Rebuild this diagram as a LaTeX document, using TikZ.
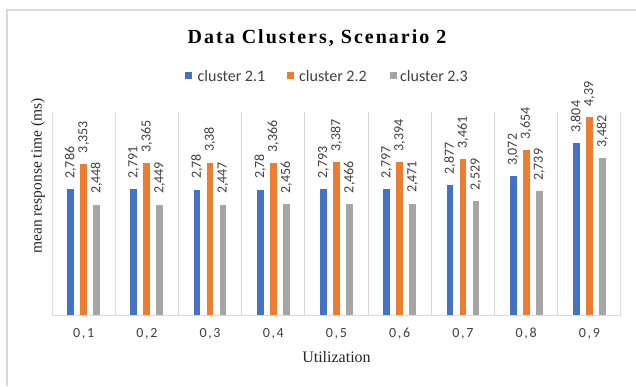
\documentclass[tikz,border=0pt]{standalone}
\usepackage{fontspec}
\setmainfont{Liberation Serif}
\newfontfamily\calfont{Carlito}
\newfontfamily\calspfont[LetterSpace=12]{Carlito}
\newfontfamily\titlefont[LetterSpace=10]{Liberation Serif}
\definecolor{cblue}{HTML}{4472C4}
\definecolor{corange}{HTML}{ED7D31}
\definecolor{cgray}{HTML}{A5A5A5}
\definecolor{gridc}{HTML}{D9D9D9}
\definecolor{txtc}{HTML}{404040}
\tikzset{
  gridline/.style={draw=gridc,line width=1},
  vlabel/.style={rotate=90,anchor=west,inner sep=0,text=txtc,font=\calfont\fontsize{14}{14}\selectfont},
  catlabel/.style={anchor=base,inner sep=0,text=txtc,font=\calspfont\fontsize{14}{14}\selectfont},
  legtext/.style={anchor=west,inner sep=0,text=txtc,font=\calfont\fontsize{16}{16}\selectfont},
}
\newcommand\catbars[7]{%
  \pgfmathsetmacro\cx{52+63.22*(#1-0.5)}%
  \fill[cblue] ({\cx-16.35},71) rectangle ({\cx-9.65},{71+45.1*#2});
  \fill[corange] ({\cx-3.35},71) rectangle ({\cx+3.35},{71+45.1*#3});
  \fill[cgray] ({\cx+9.65},71) rectangle ({\cx+16.35},{71+45.1*#4});
  \node[vlabel] (la#1) at ({\cx-13},{71+45.1*#2+10.5}) {#5};
  \node[vlabel] (lb#1) at ({\cx},{71+45.1*#3+10.5}) {#6};
  \node[vlabel] (lc#1) at ({\cx+13},{71+45.1*#4+10.5}) {#7};
  \node[catlabel] (cat#1) at ({\cx},49) {0,#1};
}
\begin{document}
\begin{tikzpicture}[x=1pt,y=1pt]
\useasboundingbox (0,0) rectangle (636,386);
\fill[white] (0,0) rectangle (636,386);
\draw[gridc,line width=1.5] (7,0) -- (7,376) -- (636,376);
% title
\node[anchor=base,inner sep=0,font=\titlefont\bfseries\fontsize{20}{20}\selectfont] (title) at (317,342) {Data Clusters, Scenario 2};
% legend
\fill[cblue] (184.5,306.5) rectangle ++(7,7);
\node[legtext] (l1) at (197.5,310) {cluster 2.1};
\fill[corange] (286.5,306.5) rectangle ++(7,7);
\node[legtext] (l2) at (299,310) {cluster 2.2};
\fill[cgray] (389.5,306.5) rectangle ++(7,7);
\node[legtext] (l3) at (400,310) {cluster 2.3};
% grid
\foreach \k in {0,...,9} \draw[gridline] ({52+63.22*\k},71) -- ({52+63.22*\k},274);
\draw[gridline] (52,71) -- (621,71);
% bars
\catbars{1}{2.786}{3.353}{2.448}{2,786}{3,353}{2,448}
\catbars{2}{2.791}{3.365}{2.449}{2,791}{3,365}{2,449}
\catbars{3}{2.78}{3.38}{2.447}{2,78}{3,38}{2,447}
\catbars{4}{2.78}{3.366}{2.456}{2,78}{3,366}{2,456}
\catbars{5}{2.793}{3.387}{2.466}{2,793}{3,387}{2,466}
\catbars{6}{2.797}{3.394}{2.471}{2,797}{3,394}{2,471}
\catbars{7}{2.877}{3.461}{2.529}{2,877}{3,461}{2,529}
\catbars{8}{3.072}{3.654}{2.739}{3,072}{3,654}{2,739}
\catbars{9}{3.804}{4.39}{3.482}{3,804}{4,39}{3,482}
% axis titles
\node[rotate=90,inner sep=0,text=black!85,font=\fontsize{15.5}{15.5}\selectfont] (ytitle) at (38,210) {mean response time (ms)};
\node[inner sep=0,text=black!85,font=\fontsize{16}{16}\selectfont] (xtitle) at (336.5,29) {Utilization};
\end{tikzpicture}
\end{document}
